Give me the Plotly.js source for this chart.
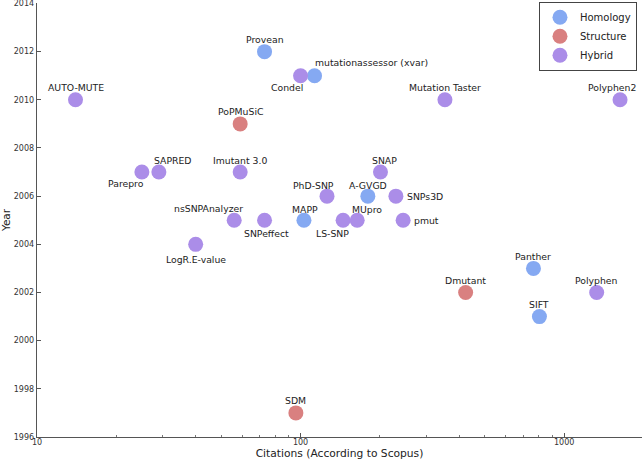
<!DOCTYPE html>
<html>
<head>
<meta charset="utf-8">
<script src="https://cdn.plot.ly/plotly-3.0.1.min.js"></script>
<style>html,body{margin:0;padding:0;background:#fff;}#chart{width:642px;height:462px;}</style>
</head>
<body>
<div id="chart"></div>
<script>
// ---- data ----
const toolNames = ['AUTO-MUTE','Provean','mutationassessor (xvar)','Condel','PoPMuSiC','Parepro','SAPRED','Imutant 3.0','nsSNPAnalyzer','SNPeffect','MAPP','LogR.E-value','SDM','PhD-SNP','A-GVGD','SNAP','SNPs3D','LS-SNP','MUpro','pmut','Mutation Taster','Polyphen2','Panther','Dmutant','Polyphen','SIFT'];
const citations = [14, 73, 113, 100, 59, 25, 29, 59, 56, 73, 103, 40, 96, 126, 180, 201, 230, 145, 164, 245, 353, 1630, 765, 423, 1329, 806];
const years = [2010, 2012, 2011, 2011, 2009, 2007, 2007, 2007, 2005, 2005, 2005, 2004, 1997, 2006, 2006, 2007, 2006, 2005, 2005, 2005, 2010, 2010, 2003, 2002, 2002, 2001];
const methods = ['Hybrid','Homology','Homology','Hybrid','Structure','Hybrid','Hybrid','Hybrid','Hybrid','Hybrid','Homology','Hybrid','Structure','Hybrid','Homology','Hybrid','Hybrid','Hybrid','Hybrid','Hybrid','Hybrid','Hybrid','Homology','Structure','Hybrid','Homology'];
const groupNames = ['Homology','Structure','Hybrid'];
const xTickVals = [10, 100, 1000];
const xTickText = ['10', '100', '1000'];
const xMinorVals = [20,30,40,50,60,70,80,90,200,300,400,500,600,700,800,900];
const yTickVals = [1996,1998,2000,2002,2004,2006,2008,2010,2012,2014];

// ---- styles ----
const groupColors = {Homology:'#85a9f2', Structure:'#d98080', Hybrid:'#ab8de8'};
// [xanchor, xshift px, yshift px]
const labelPlace = {
  'AUTO-MUTE':['center',0,12], 'Provean':['center',0,12], 'mutationassessor (xvar)':['left',-2,13],
  'Condel':['right',4,-12], 'PoPMuSiC':['center',0,12], 'Parepro':['right',4,-11], 'SAPRED':['left',-7,12],
  'Imutant 3.0':['center',0,12], 'nsSNPAnalyzer':['right',11,12], 'SNPeffect':['center',2,-13],
  'MAPP':['center',1,11], 'LogR.E-value':['center',0,-15], 'SDM':['center',0,12], 'PhD-SNP':['right',9,11],
  'A-GVGD':['center',0,11], 'SNAP':['center',4,12], 'SNPs3D':['left',9,0], 'LS-SNP':['right',8,-13],
  'MUpro':['left',-7,11], 'pmut':['left',9,0], 'Mutation Taster':['center',0,12], 'Polyphen2':['center',-8,12],
  'Panther':['center',0,12], 'Dmutant':['center',0,12], 'Polyphen':['center',0,12], 'SIFT':['center',0,12]
};
const FONT = 'DejaVu Sans, sans-serif';

const traces = groupNames.map(g => {
  const idx = methods.map((m,i)=> m===g ? i : -1).filter(i=>i>=0);
  return {
    type:'scatter', mode:'markers', name:g,
    x: idx.map(i=>citations[i]), y: idx.map(i=>years[i]),
    marker:{size:15, color:groupColors[g], line:{width:0}},
    cliponaxis:false, hoverinfo:'skip'
  };
});

const annotations = toolNames.map((n,i)=>{
  const p = labelPlace[n];
  return {
    x: Math.log10(citations[i]), y: years[i], xref:'x', yref:'y',
    text:n, showarrow:false, xanchor:p[0], yanchor:'middle', xshift:p[1], yshift:p[2],
    font:{family:FONT, size:9.3, color:'#222'}
  };
});

const axisCommon = {
  showline:true, linecolor:'#555', linewidth:1.3, mirror:false,
  ticks:'inside', ticklen:4, tickwidth:1, tickcolor:'#555',
  showgrid:false, zeroline:false, ticklabeloverflow:'allow',
  tickfont:{family:FONT, size:8, color:'#333'}
};

const layout = {
  width:642, height:462,
  margin:{l:37, r:0, t:3, b:25},
  paper_bgcolor:'#fff', plot_bgcolor:'#fff',
  font:{family:FONT, color:'#222'},
  showlegend:true,
  legend:{x:0.9917, xanchor:'right', y:1.003, yanchor:'top', bordercolor:'#444', borderwidth:1,
    bgcolor:'#fff', font:{family:FONT, size:10, color:'#222'}, tracegroupgap:0},
  xaxis: Object.assign({}, axisCommon, {
    type:'log', range:[1, 3.2955], tickvals:xTickVals, ticktext:xTickText, ticklabelstandoff:-3,
    minor:{tickvals:xMinorVals, ticks:'inside', ticklen:2, tickcolor:'#777', showgrid:false},
    title:{text:'Citations (According to Scopus)', font:{family:FONT, size:10.7, color:'#222'}, standoff:2},
    automargin:false
  }),
  yaxis: Object.assign({}, axisCommon, {
    range:[1996, 2014.02], tickvals:yTickVals,
    title:{text:'Year', font:{family:FONT, size:10.5, color:'#222'}, standoff:2},
    automargin:false
  }),
  annotations: annotations
};

Plotly.newPlot('chart', traces, layout, {displayModeBar:false, staticPlot:true});
</script>
</body>
</html>
